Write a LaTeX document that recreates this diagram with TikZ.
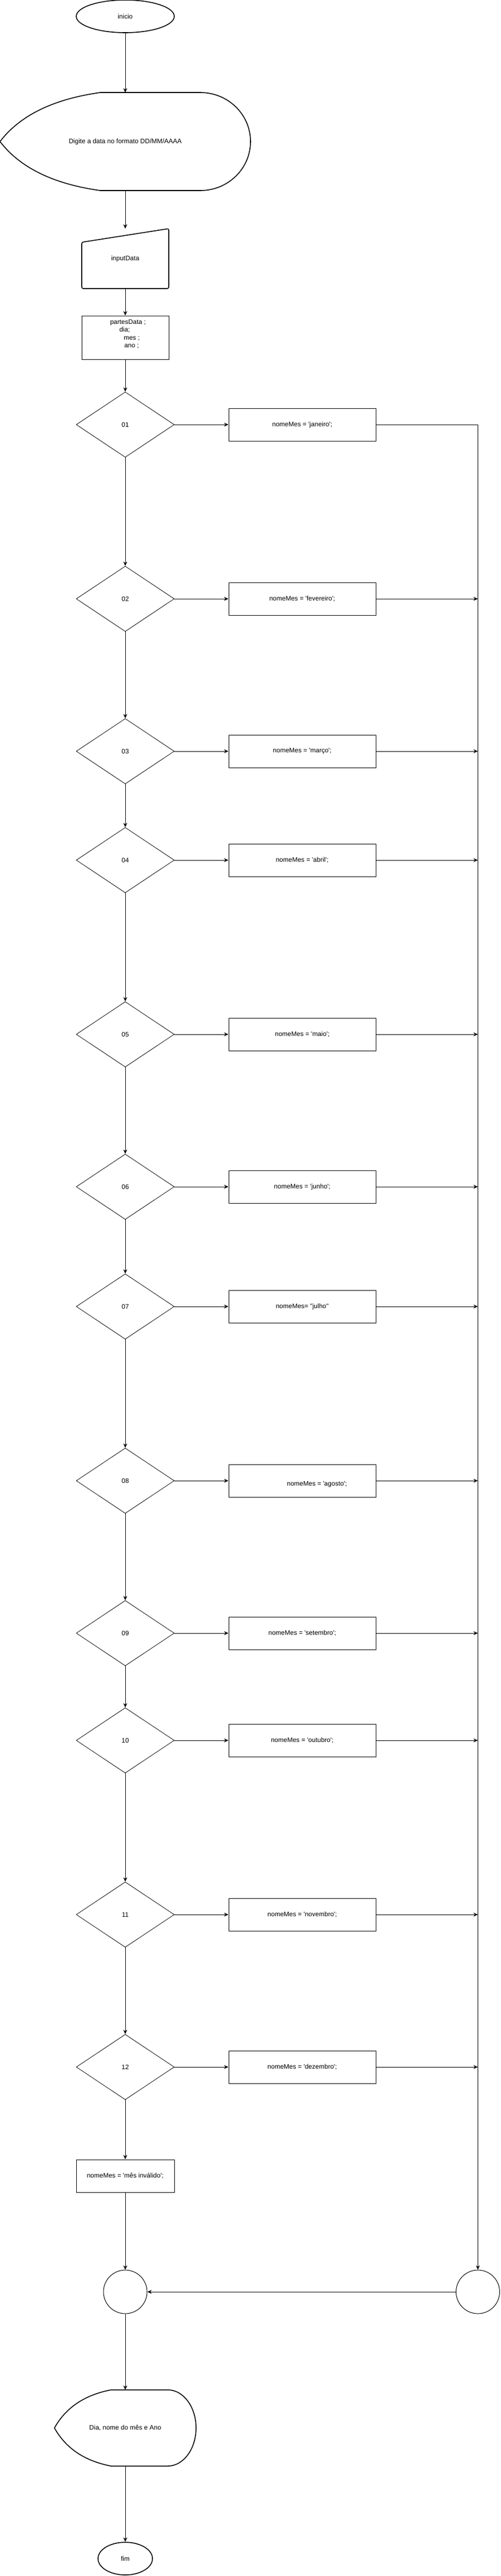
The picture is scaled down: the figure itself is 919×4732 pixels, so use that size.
\documentclass[tikz,border=0pt]{standalone}
\usepackage{fontspec}
\setmainfont{Liberation Sans}[Ligatures=TeXOff]
\usepackage{tikz}
\usetikzlibrary{shapes.geometric,arrows.meta}

\tikzset{
	every node/.style={font=\fontsize{12}{14.5}\selectfont, inner sep=0pt},
	flow/.style={draw, line width=1pt, -{Stealth[length=8pt,width=7pt,inset=2.5pt]}},
	heavy/.style={draw, line width=1.6pt},
	term/.style={ellipse, heavy, minimum height=60pt},
	ghost/.style={outer sep=0pt},
	test/.style={diamond, draw, line width=0.8pt, minimum width=180pt, minimum height=120pt},
	box/.style={rectangle, draw, line width=1pt, minimum width=270pt, minimum height=60pt},
	joint/.style={circle, draw, line width=1pt, minimum size=80pt}
}

% display outline: centre x, centre y, width, height
\newcommand{\dispshape}[4]{%
	\draw[heavy] ({#1-0.5*#3},#2)
		.. controls ({#1-0.42*#3},{#2-0.267*#4}) and ({#1-0.287*#3},{#2-0.433*#4}) .. ({#1-0.1*#3},{#2-0.5*#4})
		-- ({#1+0.3*#3},{#2-0.5*#4})
		arc[start angle=90, end angle=-90, x radius={0.2*#3*1pt}, y radius={0.5*#4*1pt}]
		-- ({#1-0.1*#3},{#2+0.5*#4})
		.. controls ({#1-0.287*#3},{#2+0.433*#4}) and ({#1-0.42*#3},{#2+0.267*#4}) .. ({#1-0.5*#3},#2)
		-- cycle;
}

\begin{document}
\begin{tikzpicture}[x=1pt, y=-1pt]
	\useasboundingbox (0,0) rectangle (919,4732);
	
	% start, prompt and input
	\node[term, minimum width=180pt] (inicio) at (230,30) {inicio};
	\dispshape{230}{260}{460}{180}
	\node[ghost, minimum width=460pt, minimum height=180pt] (prompt) at (230,260) {Digite a data no formato DD/MM/AAAA};
	\draw[heavy, rounded corners=3pt] (150,445) -- (310,420) -- (310,530) -- (150,530) -- cycle;
	\node[ghost, minimum width=160pt, minimum height=110pt] (input) at (230,475) {inputData};
	\node[rectangle, draw, line width=1pt, minimum width=160pt, minimum height=80pt, align=left] (partes) at (230,620)
		{\hspace*{10pt}partesData ;\\ \hspace*{27pt}dia;\\ \hspace*{35pt}mes ;\\ \hspace*{36pt}ano ;\\ \mbox{}};
	
	% one test and one assignment per month
	\foreach \i/\y/\lab/\mes in
	{1/780/01/{nomeMes = 'janeiro';}, 2/1100/02/{nomeMes = 'fevereiro';},
	 3/1380/03/{nomeMes = 'março';}, 4/1580/04/{nomeMes = 'abril';},
	 5/1900/05/{nomeMes = 'maio';}, 6/2180/06/{nomeMes = 'junho';},
	 7/2400/07/{nomeMes= "julho"}, 8/2720/08/{},
	 9/3000/09/{nomeMes = 'setembro';}, 10/3197/10/{nomeMes = 'outubro';},
	 11/3517/11/{nomeMes = 'novembro';}, 12/3797/12/{nomeMes = 'dezembro';}}{
		\node[test] (d\i) at (230,\y) {\lab};
		\node[box] (b\i) at (555,\y) {\mes};
		\draw[flow] (d\i.east) -- (b\i.west);
	}
	\node (t8) at (582,2727) {nomeMes = 'agosto';}; % b8
	
	% invalid month, joins, output and end
	\node[rectangle, draw, line width=1pt, minimum width=180pt, minimum height=60pt] (invalido) at (230,3997) {nomeMes = 'mês inválido';};
	\node[joint] (lc) at (230,4210) {};
	\node[joint] (rc) at (877.5,4210) {};
	\dispshape{230}{4460}{260}{140}
	\node[ghost, minimum width=260pt, minimum height=140pt] (saida) at (230,4460) {Dia, nome do mês e Ano};
	\node[term, minimum width=100pt] (fim) at (230,4700) {fim};
	
	\foreach \x/\y in
	{inicio/prompt, prompt/input, input/partes, partes/d1, d1/d2, d2/d3, d3/d4, d4/d5, d5/d6, d6/d7,
	 d7/d8, d8/d9, d9/d10, d10/d11, d11/d12, d12/invalido, invalido/lc, lc/saida, saida/fim}{
		\draw[flow] (\x.south) -- (\y.north);
	}
	
	% right bus
	\draw[flow] (b1.east) -| (rc.north);
	\foreach \i in {2,...,12}{
		\draw[flow] (b\i.east) -- (b\i.east -| rc.north);
	}
	\draw[flow] (rc.west) -- (lc.east);
\end{tikzpicture}
\end{document}
